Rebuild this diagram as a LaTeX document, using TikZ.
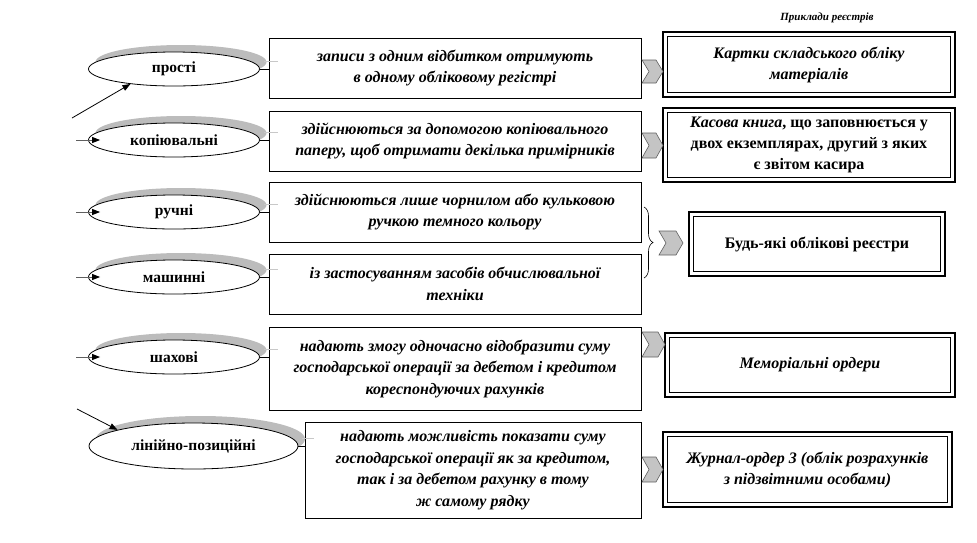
\documentclass[tikz,border=0pt]{standalone}
\usepackage{fontspec}
\setmainfont{Liberation Serif}
\usetikzlibrary{shapes.geometric,arrows.meta,decorations.pathreplacing,calc,shadows}
\definecolor{shadowgray}{RGB}{188,188,188}
\definecolor{chevgray}{RGB}{196,196,196}
\definecolor{linegray}{RGB}{95,95,95}
\definecolor{palegray}{RGB}{200,200,200}
\newcommand{\mychev}[4]{% x0, x1, ymid, height
  \filldraw[fill=chevgray, draw=linegray, line width=0.6pt]
    (#1,#3-#4/2) -- (#2-7,#3-#4/2) -- (#2,#3) -- (#2-7,#3+#4/2) -- (#1,#3+#4/2) -- (#1+7,#3) -- cycle;}
\begin{document}
\begin{tikzpicture}[x=1pt,y=-1pt,
  oval/.style={ellipse, draw, fill=white, line width=0.8pt, minimum width=171pt, minimum height=34pt,
    inner sep=0pt, font=\fontsize{15.5}{17}\selectfont\bfseries,
    general shadow={fill=shadowgray, draw=none, shadow xshift=7pt, shadow yshift=7pt}},
  descbox/.style={draw, line width=0.8pt, minimum width=372pt, align=center, inner sep=0pt,
    font=\fontsize{16}{21.5}\selectfont\bfseries\itshape},
  regbox/.style={draw, line width=2pt, align=center, inner sep=0pt, outer sep=0pt,
    font=\fontsize{16}{21}\selectfont\bfseries},
  link/.style={line width=0.8pt},
  glink/.style={palegray, line width=0.8pt},
  inarrow/.style={linegray, line width=1pt, -{Triangle[length=8pt,width=6pt,color=black]}},
  diagarrow/.style={black, line width=0.8pt, -{Triangle[length=8pt,width=6pt]}}
]
\useasboundingbox (0,0) rectangle (977,542);

% title
\node[font=\fontsize{11}{13}\selectfont\bfseries\itshape] (title) at (827,18) {Приклади реєстрів};

% ellipses
\node[oval] (e1) at (174,69) {прості};
\node[oval] (e2) at (174,140) {копіювальні};
\node[oval] (e3) at (174,212) {ручні};
\node[oval] (e4) at (174,277) {машинні};
\node[oval] (e5) at (174,357) {шахові};
\node[oval, minimum width=209pt, minimum height=46pt] (e6) at (193.5,446) {лінійно-позиційні};

% description boxes
\node[descbox, minimum height=60pt] (b1) at (455,68)
  {записи з одним відбитком отримують\\в одному обліковому регістрі};
\node[descbox, minimum height=60pt] (b2) at (455,141)
  {здійснюються за допомогою копіювального\\паперу, щоб отримати декілька примірників};
\node[descbox, minimum height=60pt] (b3) at (455,212)
  {здійснюються лише чорнилом або кульковою\\ручкою темного кольору};
\node[descbox, minimum height=60pt] (b4) at (455,284)
  {із застосуванням засобів обчислювальної\\техніки};
\node[descbox, minimum height=83pt] (b5) at (455,368.5)
  {надають змогу одночасно відобразити суму\\господарської операції за дебетом і кредитом\\кореспондуючих рахунків};
\node[descbox, minimum width=336pt, minimum height=96pt] (b6) at (473,470)
  {надають можливість показати суму\\господарської операції як за кредитом,\\так і за дебетом рахунку в тому\\ж самому рядку};

% register boxes
\node[regbox, minimum width=292pt, minimum height=65pt, font=\fontsize{16}{21}\selectfont\bfseries\itshape] (r1) at (809,64.5)
  {Картки складського обліку\\матеріалів};
\node[regbox, minimum width=292pt, minimum height=74pt, text depth=4pt] (r2) at (809,145)
  {\textit{Касова книга}, що заповнюється у\\двох екземплярах, другий з яких\\є звітом касира};
\node[regbox, minimum width=256pt, minimum height=64pt] (r3) at (817,244)
  {Будь-які облікові реєстри};
\node[regbox, minimum width=290pt, minimum height=64pt, font=\fontsize{16}{21}\selectfont\bfseries\itshape] (r4) at (810,365)
  {Меморіальні ордери};
\node[regbox, minimum width=289pt, minimum height=75pt, font=\fontsize{16}{21}\selectfont\bfseries\itshape] (r5) at (807.5,469.5)
  {Журнал-ордер 3 (облік розрахунків\\з підзвітними особами)};
\foreach \n in {r1,r2,r3,r4,r5}
  \draw[line width=0.8pt] ($(\n.north west)+(4.5,4.5)$) rectangle ($(\n.south east)+(-4.5,-4.5)$);

% ellipse -> box links
\foreach \e/\b in {e1/b1,e2/b2,e3/b3,e4/b4,e5/b5,e6/b6}{
  \draw[glink] ($(\e.east)+(4,-8)$) -- ($(\e.east -| \b.west)+(9,-8)$);
  \draw[link] (\e.east) -- (\e.east -| \b.west);
}

% incoming arrows
\foreach \e in {e2,e3,e4,e5}{
  \coordinate (s\e) at ($(\e.west)+(-12,0)$);
  \draw[inarrow] (s\e) -- ($(\e.west)+(12,0)$);
}
\coordinate (s1) at (72,118);
\coordinate (s6) at (77,409);
\draw[diagarrow] (s1) -- (e1.199);
\draw[diagarrow] (s6) -- (e6.168);

% chevrons
\mychev{642}{663}{71.5}{23}
\mychev{642}{663}{145.5}{25}
\mychev{659}{683}{243}{24}
\mychev{642}{665}{344.5}{25}
\mychev{642}{663}{469.5}{25}

% brace
\coordinate (brtop) at (644,207);
\coordinate (brbot) at (644,278);
\draw[decorate, decoration={brace, amplitude=9pt}, line width=0.6pt] (brtop) -- (brbot);
\end{tikzpicture}
\end{document}
